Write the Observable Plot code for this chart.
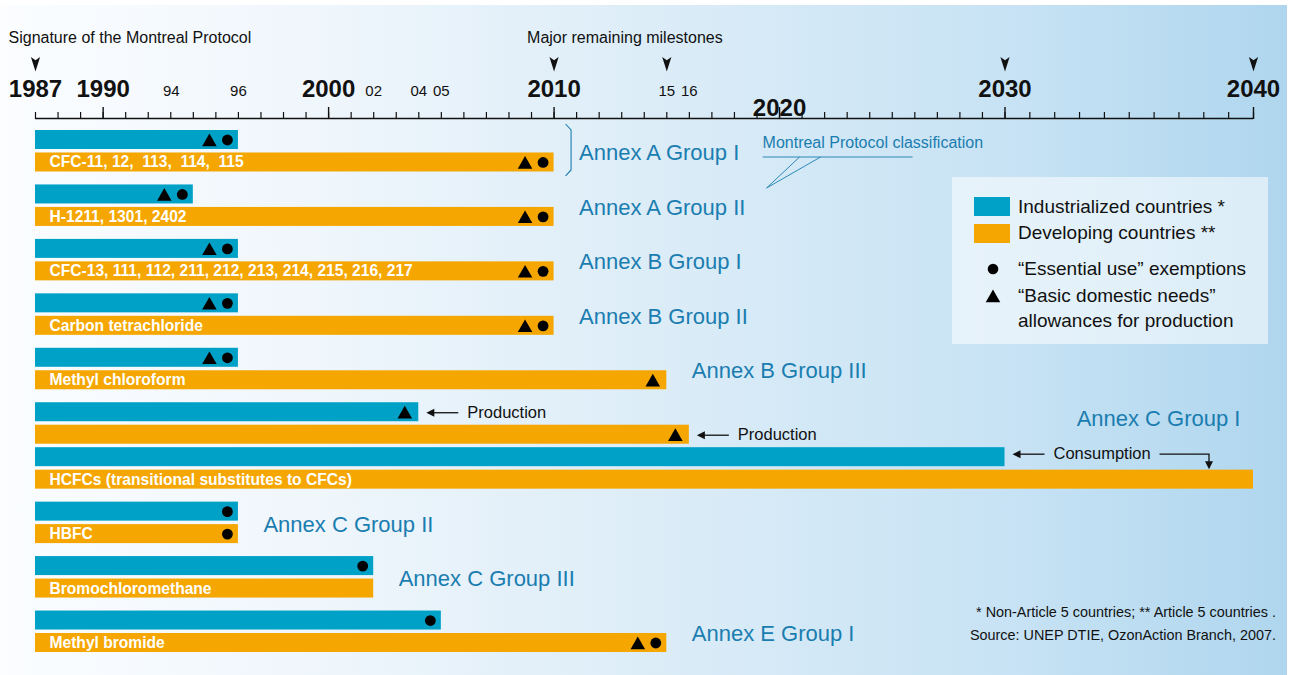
<!DOCTYPE html>
<html>
<head>
<meta charset="utf-8">
<script src="https://cdn.jsdelivr.net/npm/d3@7"></script>
<script src="https://cdn.jsdelivr.net/npm/@observablehq/plot@0.6"></script>
<style>
  html, body { margin: 0; padding: 0; background: #ffffff; }
  #chart svg { display: block; }
</style>
</head>
<body>
<div id="chart"></div>
<script>
// ---------------- DATA ----------------
const groups = ["Annex A Group I", "Annex A Group II", "Annex B Group I", "Annex B Group II",
  "Annex B Group III", "Annex C Group I", "Annex C Group II", "Annex C Group III", "Annex E Group I"];
const substances = ["CFC-11, 12,  113,  114,  115", "H-1211, 1301, 2402",
  "CFC-13, 111, 112, 211, 212, 213, 214, 215, 216, 217", "Carbon tetrachloride",
  "Methyl chloroform", "HCFCs (transitional substitutes to CFCs)", "HBFC",
  "Bromochloromethane", "Methyl bromide"];
// one entry per bar, top to bottom
const rowGroup   = [0, 0, 1, 1, 2, 2, 3, 3, 4, 4, 5, 5, 5, 5, 6, 6, 7, 7, 8, 8];
const rowCountry = ["Industrialized", "Developing", "Industrialized", "Developing",
  "Industrialized", "Developing", "Industrialized", "Developing", "Industrialized", "Developing",
  "Industrialized", "Developing", "Industrialized", "Developing", "Industrialized", "Developing",
  "Industrialized", "Developing", "Industrialized", "Developing"];
const rowEnd      = [1996, 2010, 1994, 2010, 1996, 2010, 1996, 2010, 1996, 2015,
  2004, 2016, 2030, 2040, 1996, 1996, 2002, 2002, 2005, 2015];
const rowEssential = [1, 1, 1, 1, 1, 1, 1, 1, 1, 0, 0, 0, 0, 0, 1, 1, 1, 0, 1, 1];
const rowBasic     = [1, 1, 1, 1, 1, 1, 1, 1, 1, 1, 1, 1, 0, 0, 0, 0, 0, 0, 0, 1];
const rowNote = ["", "", "", "", "", "", "", "", "", "", "Production", "Production", "Consumption",
  "", "", "", "", "", "", ""];
const startYear = 1987;
const majorYears = [1987, 1990, 2000, 2010, 2020, 2030, 2040];
const minorLabelYears = [1994, 1996, 2002, 2004, 2005, 2015, 2016];
const milestoneYears = [1987, 2010, 2015, 2030, 2040];
const countries = ["Industrialized", "Developing"];
const legendLabels = ["Industrialized countries *", "Developing countries **"];
const markerLabels = ["\u201cEssential use\u201d exemptions", "\u201cBasic domestic needs\u201d", "allowances for production"];
const headerLabels = ["Signature of the Montreal Protocol", "Major remaining milestones"];
const footnotes = ["* Non-Article 5 countries; ** Article 5 countries .", "Source: UNEP DTIE, OzonAction Branch, 2007."];
const calloutLabel = "Montreal Protocol classification";

// ---------------- STYLE ----------------
const BLUE = "#00a1c7", ORANGE = "#f5a600", TEAL = "#1a7db0", INK = "#111111";
const FONT = "'Liberation Sans', Arial, Helvetica, sans-serif";
const GAP = 0.4228;      // extra spacing between substance groups (in row units)
const HALF = 0.4228;     // half bar thickness (in row units)

const rows = rowEnd.map((end, i) => ({
  i, end, group: rowGroup[i], country: rowCountry[i],
  ess: rowEssential[i], basic: rowBasic[i], note: rowNote[i],
  pos: i + rowGroup[i] * GAP
}));
const lastPos = rows[rows.length - 1].pos;
const groupInfo = groups.map((name, g) => {
  const rs = rows.filter(r => r.group === g);
  return {name, g, end: d3.max(rs, r => r.end),
    mid: (rs[0].pos + rs[1].pos) / 2, first: rs[0].pos, last: rs[rs.length - 1]};
});
const labelRows = groupInfo.map(d => d.last);

// custom milestone arrowhead symbol
const milestoneSymbol = {
  draw(ctx) {
    ctx.moveTo(0, 7.5); ctx.lineTo(-4.6, -7); ctx.lineTo(0, -3.8); ctx.lineTo(4.6, -7); ctx.closePath();
  }
};

function background(index, scales, values, dims) {
  const g = d3.create("svg:g");
  const defs = g.append("defs");
  const lg = defs.append("linearGradient").attr("id", "bggrad").attr("x1", 0).attr("x2", 1).attr("y1", 0).attr("y2", 0);
  [[0, "#fbfdff"], [0.25, "#eff6fc"], [0.55, "#d9ebf7"], [0.8, "#c6e2f4"], [1, "#afd6ee"]]
    .forEach(([o, c]) => lg.append("stop").attr("offset", o).attr("stop-color", c));
  g.append("rect").attr("x", 0).attr("y", 5).attr("width", dims.width - 3).attr("height", dims.height - 5)
    .attr("fill", "url(#bggrad)");
  return g.node();
}

function axisLine(index, scales, values, dims) {
  const {x} = scales;
  return d3.create("svg:line").attr("x1", x(startYear)).attr("x2", x(2040))
    .attr("y1", dims.marginTop + 0.5).attr("y2", dims.marginTop + 0.5)
    .attr("stroke", INK).attr("stroke-width", 1.4).node();
}

function annotations(index, scales, values, dims) {
  const {x, y} = scales;
  const g = d3.create("svg:g").attr("font-family", FONT).attr("text-anchor", "start");
  // bracket next to Annex A Group I
  const bx = x(2010);
  const yt = y(rows[0].pos) - 15.5, yb = y(rows[1].pos) + 14;
  g.append("path").attr("d", `M${bx + 12},${yt} L${bx + 17.5},${yt + 6} L${bx + 17.5},${yb - 6} L${bx + 12},${yb}`)
    .attr("fill", "none").attr("stroke", TEAL).attr("stroke-width", 1.1);
  // callout "Montreal Protocol classification"
  const cy = y(rows[0].pos);
  g.append("text").attr("x", bx + 209).attr("y", cy + 3.5).attr("dy", "0.32em")
    .attr("font-size", 16).attr("fill", TEAL).text(calloutLabel);
  g.append("path").attr("d", `M${bx + 209},${cy + 17.5} L${bx + 359},${cy + 17.5} M${bx + 246},${cy + 17.5} L${bx + 213},${cy + 48.5} L${bx + 267},${cy + 17.5}`)
    .attr("fill", "none").attr("stroke", TEAL).attr("stroke-width", 0.9);
  // Production / Consumption arrows
  rows.filter(r => r.note).forEach(r => {
    const xe = x(r.end), yr = y(r.pos) + (r.note === "Consumption" ? -2.5 : 1);
    const tip = xe + 8;
    g.append("path").attr("d", `M${tip},${yr} L${tip + 8},${yr - 4} L${tip + 8},${yr + 4} Z`).attr("fill", INK);
    g.append("line").attr("x1", tip + 7).attr("x2", xe + 40).attr("y1", yr).attr("y2", yr)
      .attr("stroke", INK).attr("stroke-width", 1.3);
    g.append("text").attr("x", xe + 49).attr("y", yr).attr("dy", "0.32em")
      .attr("font-size", 16.5).attr("fill", INK).text(r.note);
    if (r.note === "Consumption") {
      const cx = x(2040) - 44, next = y(rows[r.i + 1].pos);
      const tipY = next - 10;
      g.append("path").attr("d", `M${xe + 155},${yr} L${cx},${yr} L${cx},${tipY - 6}`)
        .attr("fill", "none").attr("stroke", INK).attr("stroke-width", 1.3);
      g.append("path").attr("d", `M${cx},${tipY} L${cx - 4},${tipY - 8} L${cx + 4},${tipY - 8} Z`).attr("fill", INK);
    }
  });
  return g.node();
}

function legend(index, scales, values, dims) {
  const g = d3.create("svg:g").attr("font-family", FONT).attr("text-anchor", "start");
  const L = dims.width - 338, T = 177;
  g.append("rect").attr("x", L).attr("y", T).attr("width", 316).attr("height", 167)
    .attr("fill", "#ffffff").attr("fill-opacity", 0.55);
  [BLUE, ORANGE].forEach((c, k) => {
    g.append("rect").attr("x", L + 22).attr("y", T + 20 + k * 27).attr("width", 36).attr("height", 19).attr("fill", c);
    g.append("text").attr("x", L + 66).attr("y", T + 30 + k * 26).attr("dy", "0.32em")
      .attr("font-size", 19).attr("fill", INK).text(legendLabels[k]);
  });
  g.append("circle").attr("cx", L + 41).attr("cy", T + 92).attr("r", 5.3).attr("fill", "#000");
  g.append("path").attr("d", d3.symbol(d3.symbolTriangle, 5.4 * 5.4 * Math.PI)()).attr("transform", `translate(${L + 41},${T + 121})`).attr("fill", "#000");
  [92, 119, 144].forEach((dy, k) => g.append("text").attr("x", L + 66).attr("y", T + dy).attr("dy", "0.32em")
    .attr("font-size", 19).attr("fill", INK).text(markerLabels[k]));
  // footnotes
  footnotes.forEach((t, k) => g.append("text").attr("x", dims.width - 14).attr("y", 612 + k * 23).attr("dy", "0.32em")
    .attr("text-anchor", "end").attr("font-size", 14.4).attr("fill", INK).text(t));
  return g.node();
}

const atTop = {frameAnchor: "top", lineAnchor: "middle"};

const chart = Plot.plot({
  width: 1290,
  height: 675,
  marginTop: 118, marginLeft: 35, marginRight: 37, marginBottom: 30,
  style: {fontFamily: FONT, background: "transparent", overflow: "visible"},
  x: {type: "linear", domain: [1987, 2030, 2040], range: [35, 1004.5, 1253]},
  y: {domain: [0, lastPos], range: [139.5, 642.5], axis: null},
  color: {domain: countries, range: [BLUE, ORANGE]},
  marks: [
    background,
    // axis
    axisLine,
    Plot.axisX(d3.range(1987, 2041), {anchor: "top", tickSize: 7, tickFormat: () => "", label: null, stroke: INK, strokeWidth: 1.2}),
    Plot.axisX(majorYears.slice(1), {anchor: "top", tickSize: 12, tickFormat: () => "", label: null, stroke: INK, strokeWidth: 1.4}),
    Plot.text(majorYears.filter(d => d !== 2020), {...atTop, x: d => d, text: d => String(d), dy: -29.5,
      fontSize: 24, fontWeight: "bold", fill: INK}),
    Plot.text([2020], {...atTop, x: d => d, text: d => String(d), dy: -10, fontSize: 24, fontWeight: "bold", fill: INK}),
    Plot.text(minorLabelYears.filter(d => d !== 1994), {...atTop, x: d => d, text: d => String(d % 100).padStart(2, "0"), dy: -27,
      fontSize: 15, fill: INK}),
    Plot.text(minorLabelYears.filter(d => d === 1994), {...atTop, x: d => d, text: d => String(d % 100).padStart(2, "0"), dy: -27, dx: -22,
      fontSize: 15, fill: INK}),
    Plot.dot(milestoneYears, {x: d => d, frameAnchor: "top", dy: -54.5, symbol: milestoneSymbol, fill: INK, r: 5}),
    Plot.text([headerLabels[0]], {...atTop, x: () => 1987, dy: -81, dx: -27, textAnchor: "start", fontSize: 16, fill: INK}),
    Plot.text([headerLabels[1]], {...atTop, x: () => 2010, dy: -81, dx: -27, textAnchor: "start", fontSize: 16, fill: INK}),
    // bars
    Plot.rect(rows, {x1: () => startYear, x2: "end", y1: d => d.pos - HALF, y2: d => d.pos + HALF, fill: "country"}),
    // markers: essential use (circle) and basic domestic needs (triangle)
    Plot.dot(rows.filter(d => d.ess), {x: "end", y: "pos", dx: -11, r: 5.4, fill: "#000", symbol: "circle"}),
    Plot.dot(rows.filter(d => d.basic && d.ess), {x: "end", y: "pos", dx: -29, dy: 2, r: 5.4, fill: "#000", symbol: "triangle"}),
    Plot.dot(rows.filter(d => d.basic && !d.ess), {x: "end", y: "pos", dx: -14, dy: 2, r: 5.4, fill: "#000", symbol: "triangle"}),
    // substance labels
    Plot.text(labelRows, {x: () => startYear, y: "pos", text: d => substances[d.group], dx: 14, textAnchor: "start",
      fill: "#ffffff", fontWeight: "bold", fontSize: 15.6}),
    // group labels
    Plot.text(groupInfo.filter(d => d.g !== 5), {x: "end", y: "mid", text: "name", dx: 25, dy: 2, textAnchor: "start",
      fill: TEAL, fontSize: 22}),
    Plot.text(groupInfo.filter(d => d.g === 5), {x: () => 2040, y: "first", text: "name", dx: -13, dy: 6.5, textAnchor: "end",
      fill: TEAL, fontSize: 22}),
    annotations,
    legend
  ]
});
document.getElementById("chart").appendChild(chart);
</script>
</body>
</html>
